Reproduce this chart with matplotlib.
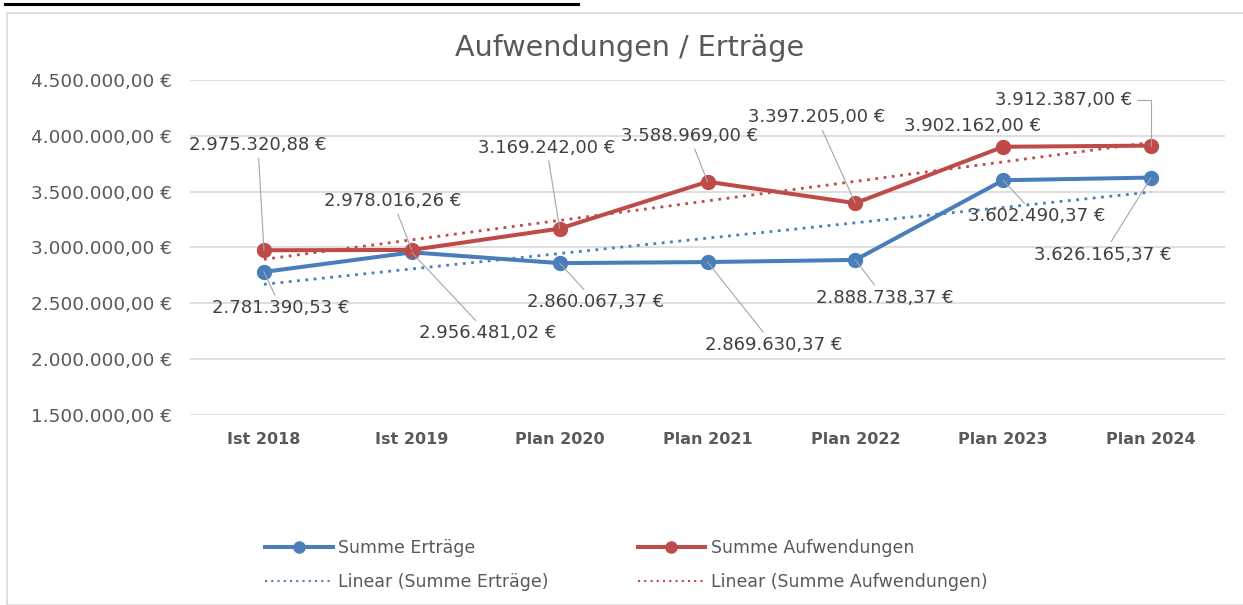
import matplotlib
matplotlib.use("Agg")
import matplotlib.pyplot as plt
from matplotlib.lines import Line2D
from matplotlib.patches import Rectangle
import numpy as np

categories = ["Ist 2018", "Ist 2019", "Plan 2020", "Plan 2021", "Plan 2022", "Plan 2023", "Plan 2024"]
ertraege = [2781390.53, 2956481.02, 2860067.37, 2869630.37, 2888738.37, 3602490.37, 3626165.37]
aufwendungen = [2975320.88, 2978016.26, 3169242.00, 3588969.00, 3397205.00, 3902162.00, 3912387.00]
yticks = [1500000, 2000000, 2500000, 3000000, 3500000, 4000000, 4500000]

BLUE = "#4A7EBB"
RED = "#BE4B48"
GRAY = "#595959"

def eur(v):
    s = f"{v:,.2f}"
    s = s.replace(",", "X").replace(".", ",").replace("X", ".")
    return s + " €"

W, H = 1243, 605
fig = plt.figure(figsize=(W / 100, H / 100), dpi=100)
fig.patch.set_facecolor("white")

# chart frame and cut-off underline above
fig.patches.append(Rectangle((7 / W, 0), 1.2, (H - 13) / H, transform=fig.transFigure,
                             fill=False, edgecolor="#d9d9d9", lw=1.2))
fig.lines.append(Line2D([5 / W, 578 / W], [1 - 4 / H, 1 - 4 / H], transform=fig.transFigure,
                        color="black", lw=2.2))

ax = fig.add_axes([190 / W, 190 / H, 1035 / W, 335 / H])
x = np.arange(len(categories))
ax.set_xlim(-0.5, len(categories) - 0.5)
ax.set_ylim(1500000, 4500000)
ax.set_yticks(yticks)
ax.set_yticklabels([eur(v) for v in yticks])
ax.set_xticks(x)
ax.set_xticklabels(categories, fontweight="bold")
ax.tick_params(axis="y", length=0, pad=13, labelsize=13.3, labelcolor=GRAY)
ax.tick_params(axis="x", length=0, pad=12, labelsize=11.5, labelcolor=GRAY)
for s in ax.spines.values():
    s.set_visible(False)
ax.grid(axis="y", color="#d9d9d9", lw=1.2)
ax.set_axisbelow(True)

# trendlines (linear fit)
xf = x + 1
pe = np.polyfit(xf, ertraege, 1)
pa = np.polyfit(xf, aufwendungen, 1)
ax.plot(x, np.polyval(pe, xf), ls=(0, (1, 2)), color=BLUE, lw=2.0, zorder=2)
ax.plot(x, np.polyval(pa, xf), ls=(0, (1, 2)), color=RED, lw=2.0, zorder=2)

ax.plot(x, ertraege, color=BLUE, lw=2.9, marker="o", ms=10, zorder=3, solid_capstyle="round")
ax.plot(x, aufwendungen, color=RED, lw=2.9, marker="o", ms=10, zorder=3, solid_capstyle="round")

# data label offsets (pixels)
off_e = [(17, -36), (76, -81), (36, -39), (66, -83), (29, -38), (33, -36), (-48, -77)]
off_a = [(-6, 105), (-19, 49), (-13, 81), (-18, 46), (-39, 86), (-31, 21), (-87, 46)]
lead_a = [True, True, True, True, True, False, True]

for i, v in enumerate(ertraege):
    ax.annotate(eur(v), (i, v), xytext=off_e[i], textcoords="offset pixels",
                ha="center", va="center", fontsize=13, color="#404040",
                arrowprops=dict(arrowstyle="-", color="#a6a6a6", lw=0.8, shrinkA=1, shrinkB=0),
                zorder=4)
for i, v in enumerate(aufwendungen):
    ap = None
    if lead_a[i]:
        ap = dict(arrowstyle="-", color="#a6a6a6", lw=0.8, shrinkA=1, shrinkB=0)
        if i == 6:
            ap["connectionstyle"] = "angle,angleA=0,angleB=90,rad=0"
    ax.annotate(eur(v), (i, v), xytext=off_a[i], textcoords="offset pixels",
                ha="center", va="center", fontsize=13, color="#404040",
                arrowprops=ap, zorder=4)

fig.text(630 / W, 1 - 48 / H, "Aufwendungen / Erträge", ha="center", va="center",
         fontsize=20.6, color=GRAY)

handles = [
    Line2D([], [], color=BLUE, lw=2.9, marker="o", ms=8),
    Line2D([], [], ls=(0, (1, 2)), color=BLUE, lw=1.5),
    Line2D([], [], color=RED, lw=2.9, marker="o", ms=8),
    Line2D([], [], ls=(0, (1, 2)), color=RED, lw=1.5),
]
labels = ["Summe Erträge", "Linear (Summe Erträge)", "Summe Aufwendungen", "Linear (Summe Aufwendungen)"]
leg = fig.legend(handles, labels, ncol=2, loc="center", bbox_to_anchor=(626 / W, 1 - 565 / H),
                 frameon=False, fontsize=12.5, handlelength=3.9, handletextpad=0.3,
                 columnspacing=5.15, labelspacing=0.95)
for t in leg.get_texts():
    t.set_color(GRAY)

fig.savefig("out.png", dpi=100, facecolor="white")
